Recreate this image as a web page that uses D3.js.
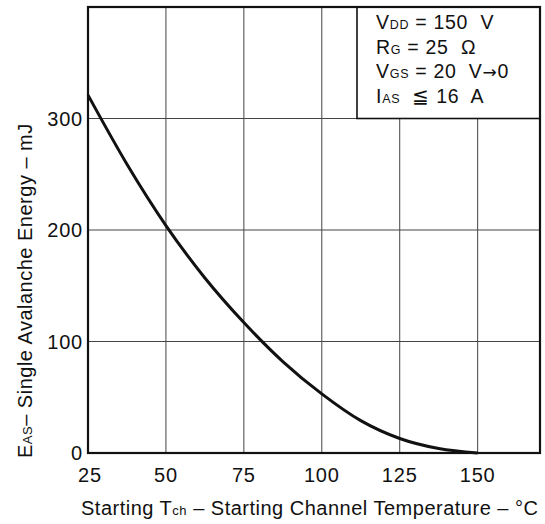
<!DOCTYPE html>
<html lang="en">
<head>
    <meta charset="utf-8">
    <title>Single Avalanche Energy vs Starting Channel Temperature</title>
    <style>
        body { margin: 0; background: #fff; }
        svg text {
            font-family: "Liberation Sans", Arial, sans-serif;
            fill: #111;
            white-space: pre;
        }
    </style>
    <script src="https://d3js.org/d3.v7.min.js"></script>
</head>
<body>
<svg></svg>
<script>
    const width = 545;
    const height = 524;

    // curve
    const tempC = [25, 37.5, 50, 62.5, 75, 87.5, 100, 112.5, 125, 137.5, 150];
    const energyMJ = [321, 259, 204, 157, 117, 82, 53, 29, 13, 4, 0];

    const xTicks = [25, 50, 75, 100, 125, 150];
    const yTicks = [0, 100, 200, 300];

    // test conditions: [symbol, subscript, rest]
    const conditions = [
        ['V', 'DD', ' = 150  V'],
        ['R', 'G', ' = 25  Ω'],
        ['V', 'GS', ' = 20  V→0'],
        ['I', 'AS', '  ≦ 16  A']
    ];

    const svg = d3.select('svg').attr('width', width).attr('height', height);

    const x = d3.scaleLinear().domain([25, 170]).range([88, 540]);
    const y = d3.scaleLinear().domain([0, 400]).range([453, 7]);

    // grid
    svg.append('g')
        .selectAll('line')
        .data(xTicks.slice(1))
        .enter().append('line')
        .attr('x1', d => x(d)).attr('x2', d => x(d))
        .attr('y1', y(400)).attr('y2', y(0))
        .attr('stroke', '#444')
        .attr('stroke-width', 1);

    svg.append('g')
        .selectAll('line')
        .data(yTicks.slice(1))
        .enter().append('line')
        .attr('x1', x(25)).attr('x2', x(170))
        .attr('y1', d => y(d)).attr('y2', d => y(d))
        .attr('stroke', '#444')
        .attr('stroke-width', 1);

    // conditions box (top right)
    const boxLeft = 357;
    svg.append('rect')
        .attr('x', boxLeft)
        .attr('y', y(400))
        .attr('width', x(170) - boxLeft)
        .attr('height', y(300) - y(400))
        .attr('fill', '#fff')
        .attr('stroke', '#111')
        .attr('stroke-width', 1.6);

    const legend = svg.append('g');
    conditions.forEach((c, i) => {
        const t = legend.append('text')
            .attr('x', 376)
            .attr('y', 29 + i * 24.5)
            .attr('font-size', 19.5)
            .attr('letter-spacing', 0.7);
        t.append('tspan').text(c[0]);
        t.append('tspan').attr('font-size', 12.5).text(c[1]);
        const rest = c[2].split('→');
        t.append('tspan').text(rest[0]);
        if (rest.length > 1) {
            t.append('tspan').style('font-family', 'DejaVu Sans').attr('font-size', 17).text('→');
            t.append('tspan').text(rest[1]);
        }
    });

    // frame
    svg.append('rect')
        .attr('x', x(25))
        .attr('y', y(400))
        .attr('width', x(170) - x(25))
        .attr('height', y(0) - y(400))
        .attr('fill', 'none')
        .attr('stroke', '#111')
        .attr('stroke-width', 2.2);

    // curve
    const line = d3.line()
        .x((d, i) => x(tempC[i]))
        .y(d => y(d))
        .curve(d3.curveMonotoneX);

    svg.append('path')
        .datum(energyMJ)
        .attr('d', line)
        .attr('fill', 'none')
        .attr('stroke', '#111')
        .attr('stroke-width', 3);

    // tick labels
    svg.append('g')
        .selectAll('text')
        .data(xTicks)
        .enter().append('text')
        .attr('x', d => x(d) + (d === 25 ? 2 : 0))
        .attr('y', 482)
        .attr('text-anchor', 'middle')
        .attr('font-size', 20)
        .attr('letter-spacing', 0.8)
        .text(d => d);

    svg.append('g')
        .selectAll('text')
        .data(yTicks)
        .enter().append('text')
        .attr('x', 83)
        .attr('y', d => y(d) + 7)
        .attr('text-anchor', 'end')
        .attr('font-size', 20)
        .attr('letter-spacing', 0.8)
        .text(d => d);

    // axis titles
    const xTitle = svg.append('text')
        .attr('x', 81)
        .attr('y', 515)
        .attr('font-size', 20)
        .attr('letter-spacing', 0.5);
    xTitle.append('tspan').text('Starting T');
    xTitle.append('tspan').attr('font-size', 13).text('ch');
    xTitle.append('tspan').text(' – Starting Channel Temperature – °C');

    const yTitle = svg.append('text')
        .attr('transform', 'translate(32,458) rotate(-90)')
        .attr('font-size', 20)
        .attr('letter-spacing', 0.5);
    yTitle.append('tspan').text('E');
    yTitle.append('tspan').attr('font-size', 13).text('AS');
    yTitle.append('tspan').text('– Single Avalanche Energy – mJ');
</script>
</body>
</html>
